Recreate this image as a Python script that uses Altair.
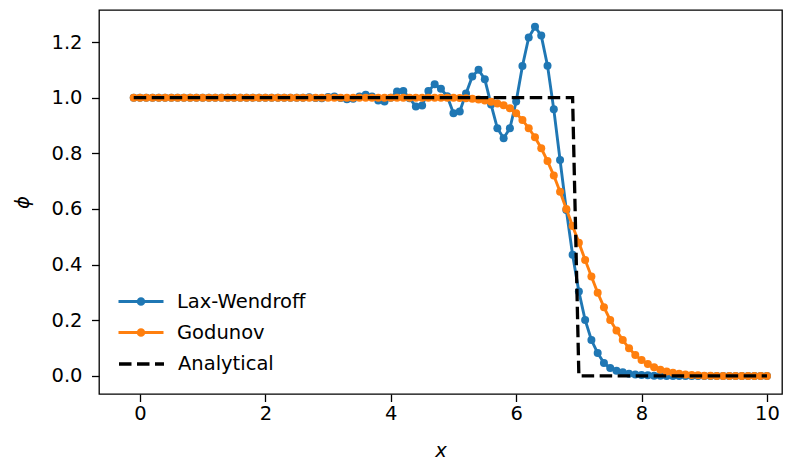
import altair as alt
import pandas as pd

# grid positions (x)
x_vals = [
    -0.1, 0.0, 0.1, 0.2, 0.3, 0.4, 0.5, 0.6, 0.7, 0.8,
    0.9, 1.0, 1.1, 1.2, 1.3, 1.4, 1.5, 1.6, 1.7, 1.8,
    1.9, 2.0, 2.1, 2.2, 2.3, 2.4, 2.5, 2.6, 2.7, 2.8,
    2.9, 3.0, 3.1, 3.2, 3.3, 3.4, 3.5, 3.6, 3.7, 3.8,
    3.9, 4.0, 4.1, 4.2, 4.3, 4.4, 4.5, 4.6, 4.7, 4.8,
    4.9, 5.0, 5.1, 5.2, 5.3, 5.4, 5.5, 5.6, 5.7, 5.8,
    5.9, 6.0, 6.1, 6.2, 6.3, 6.4, 6.5, 6.6, 6.7, 6.8,
    6.9, 7.0, 7.1, 7.2, 7.3, 7.4, 7.5, 7.6, 7.7, 7.8,
    7.9, 8.0, 8.1, 8.2, 8.3, 8.4, 8.5, 8.6, 8.7, 8.8,
    8.9, 9.0, 9.1, 9.2, 9.3, 9.4, 9.5, 9.6, 9.7, 9.8,
    9.9, 10.0,
]

lax_wendroff = [
    1.0, 1.0, 1.0, 1.0, 1.0, 1.0, 1.0, 1.0, 1.0, 1.0,
    1.0, 1.0, 1.0, 1.0, 1.0, 1.0, 1.0, 1.0, 1.0, 1.0,
    1.0, 1.0, 1.0, 1.0, 1.0, 1.0, 1.0, 1.0, 1.001, 0.999,
    0.998, 1.002, 1.004, 0.999, 0.994, 0.996, 1.004, 1.010, 1.004, 0.990,
    0.986, 1.000, 1.022, 1.024, 0.998, 0.968, 0.972, 1.024, 1.048, 1.032,
    1.005, 0.944, 0.950, 1.015, 1.076, 1.100, 1.066, 0.975, 0.890, 0.854,
    0.890, 0.986, 1.114, 1.216, 1.255, 1.223, 1.115, 0.958, 0.776, 0.596,
    0.435, 0.303, 0.201, 0.129, 0.082, 0.046, 0.028, 0.019, 0.013, 0.008,
    0.005, 0.003, 0.002, 0.001, 0.001, 0.0, 0.0, 0.0, 0.0, 0.0,
    0.0, 0.0, 0.0, 0.0, 0.0, 0.0, 0.0, 0.0, 0.0, 0.0,
    0.0, 0.0,
]

godunov = [
    1.0, 1.0, 1.0, 1.0, 1.0, 1.0, 1.0, 1.0, 1.0, 1.0,
    1.0, 1.0, 1.0, 1.0, 1.0, 1.0, 1.0, 1.0, 1.0, 1.0,
    1.0, 1.0, 1.0, 1.0, 1.0, 1.0, 1.0, 1.0, 1.0, 1.0,
    1.0, 1.0, 1.0, 1.0, 1.0, 1.0, 1.0, 1.0, 1.0, 1.0,
    1.0, 1.0, 1.0, 1.0, 1.0, 1.0, 1.0, 1.0, 1.0, 1.0,
    1.0, 0.9995, 0.999, 0.998, 0.996, 0.993, 0.990, 0.985, 0.979, 0.973,
    0.962, 0.944, 0.920, 0.890, 0.858, 0.818, 0.772, 0.720, 0.662, 0.600,
    0.539, 0.479, 0.417, 0.357, 0.299, 0.247, 0.201, 0.163, 0.129, 0.099,
    0.075, 0.057, 0.043, 0.031, 0.022, 0.016, 0.011, 0.008, 0.005, 0.003,
    0.002, 0.001, 0.001, 0.0, 0.0, 0.0, 0.0, 0.0, 0.0, 0.0,
    0.0, 0.0,
]

analytical = [
    1, 1, 1, 1, 1, 1, 1, 1, 1, 1,
    1, 1, 1, 1, 1, 1, 1, 1, 1, 1,
    1, 1, 1, 1, 1, 1, 1, 1, 1, 1,
    1, 1, 1, 1, 1, 1, 1, 1, 1, 1,
    1, 1, 1, 1, 1, 1, 1, 1, 1, 1,
    1, 1, 1, 1, 1, 1, 1, 1, 1, 1,
    1, 1, 1, 1, 1, 1, 1, 1, 1, 1,
    1, 0, 0, 0, 0, 0, 0, 0, 0, 0,
    0, 0, 0, 0, 0, 0, 0, 0, 0, 0,
    0, 0, 0, 0, 0, 0, 0, 0, 0, 0,
    0, 0,
]

x_ticks = [0, 2, 4, 6, 8, 10]
y_ticks = [0.0, 0.2, 0.4, 0.6, 0.8, 1.0, 1.2]

df_lw = pd.DataFrame({"x": x_vals, "phi": lax_wendroff, "series": "Lax-Wendroff"})
df_go = pd.DataFrame({"x": x_vals, "phi": godunov, "series": "Godunov"})
df_an = pd.DataFrame({"x": x_vals, "phi": analytical, "series": "Analytical"})

FONT = "DejaVu Sans"
FS = 19.5

X = alt.X(
    "x:Q",
    scale=alt.Scale(domain=[-0.654, 10.24], nice=False, zero=False),
    axis=alt.Axis(values=x_ticks, title="x", labelPadding=3, titlePadding=18),
)
Y = alt.Y(
    "phi:Q",
    scale=alt.Scale(domain=[-0.065, 1.315], nice=False, zero=False),
    axis=alt.Axis(values=y_ticks, format=".1f", title="ϕ", labelPadding=9.5, titlePadding=18),
)

dot_path = (
    "M-2.5,0H2.5"
    "M-0.12,0A0.12,0.12 0 1,0 0.12,0A0.12,0.12 0 1,0 -0.12,0"
    "M-0.32,0A0.32,0.32 0 1,0 0.32,0A0.32,0.32 0 1,0 -0.32,0"
)

color_scale = alt.Scale(domain=["Lax-Wendroff", "Godunov"], range=["#1f77b4", "#ff7f0e"])
color_legend = alt.Legend(
    title=None, orient="none", legendX=31.5, legendY=281, padding=0,
    symbolType=dot_path, symbolSize=324, symbolStrokeWidth=2.8,
    labelOffset=25.5, rowPadding=11, labelFontSize=FS, labelFont=FONT,
    labelColor="black",
)
dash_legend = alt.Legend(
    title=None, orient="none", legendX=31.5, legendY=343, padding=0,
    symbolType="M-2.5,0H2.5", symbolSize=324, symbolStrokeWidth=3.3,
    symbolStrokeColor="black",
    labelOffset=25.5, labelFontSize=FS, labelFont=FONT, labelColor="black",
)

lw_line = alt.Chart(df_lw).mark_line(strokeWidth=2.9).encode(
    x=X, y=Y, color=alt.Color("series:N", scale=color_scale, legend=color_legend)
)
lw_pts = alt.Chart(df_lw).mark_circle(size=64, opacity=1).encode(
    x=X, y=Y, color=alt.Color("series:N", scale=color_scale, legend=None)
)
go_line = alt.Chart(df_go).mark_line(strokeWidth=2.9).encode(
    x=X, y=Y, color=alt.Color("series:N", scale=color_scale, legend=color_legend)
)
go_pts = alt.Chart(df_go).mark_circle(size=64, opacity=1).encode(
    x=X, y=Y, color=alt.Color("series:N", scale=color_scale, legend=None)
)
an_line = alt.Chart(df_an).mark_line(strokeWidth=3.3, color="black", strokeCap="butt").encode(
    x=X, y=Y,
    strokeDash=alt.StrokeDash(
        "series:N", scale=alt.Scale(domain=["Analytical"], range=[[12.5, 5.5]]), legend=dash_legend
    ),
)

chart = (
    alt.layer(lw_line, lw_pts, go_line, go_pts, an_line)
    .properties(
        width=683, height=384,
        autosize=alt.AutoSizeParams(type="none"),
        padding={"left": 99, "top": 10, "right": 10, "bottom": 67},
        background="white",
    )
    .configure_view(stroke="black", strokeWidth=1.3)
    .configure_axis(
        domain=False, grid=False, tickColor="black", tickWidth=1.3, tickSize=7.5,
        labelFont=FONT, labelFontSize=FS, labelColor="black",
        titleFont=FONT, titleFontSize=FS, titleColor="black",
        titleFontWeight="normal", titleFontStyle="italic",
    )
)

chart.save("out.html", embed_options={"renderer": "svg", "actions": False})
